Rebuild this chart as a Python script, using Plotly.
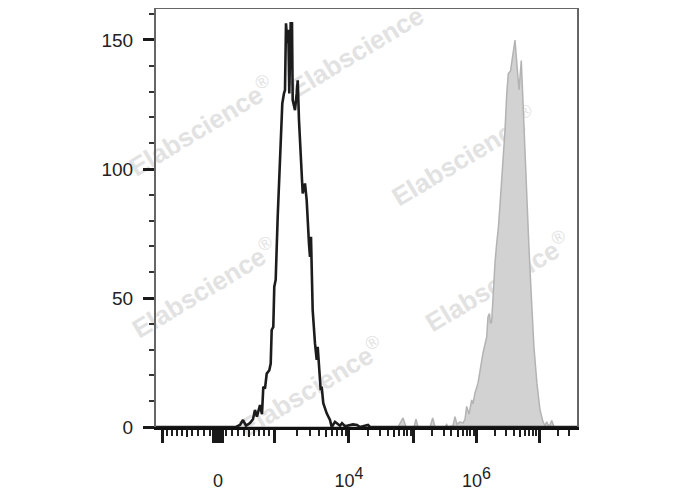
import math
import plotly.graph_objects as go

# ---------------- data (display channel of biexponential axis, 0-1024) ----------------
black_channel = [0, 107.0, 194.6, 204.3, 211.6, 218.9, 228.6, 235.9, 240.7, 245.5, 253.0,
                 257.8, 261.0, 265.1, 269.3, 275.6, 279.0, 281.4, 285.3, 287.7, 291.1,
                 296.0, 299.2, 304.0, 307.2, 311.3, 313.8, 316.2, 319.4, 321.8, 324.2,
                 327.6, 330.8, 332.5, 338.1, 342.2, 344.7, 347.8, 352.0, 356.8, 362.4,
                 366.5, 372.1, 374.6, 377.0, 381.1, 386.7, 390.9, 393.3, 396.5, 400.6,
                 403.0, 406.9, 415.2, 423.2, 427.4, 435.4, 447.5, 452.4, 459.7, 479.2,
                 488.9, 496.2, 515.7, 520.5, 1024]
black_count = [0, 0, 0, 0.8, 2.7, 0.5, 1.5, 3, 6.6, 4, 8.5,
               5, 15.6, 14.9, 20.7, 22, 24.6, 37.6, 38.8, 54.4, 57,
               81.5, 94.4, 116.3, 125.4, 129.3, 130.6, 156.5, 148.8, 154, 129.3,
               156.5, 156.5, 126.7, 122.8, 129.3, 134.4, 118.9, 107.2, 90.5, 94.4,
               87.9, 71.1, 65.9, 73.7, 45.3, 32.4, 26, 31.1, 22, 14.3,
               15.6, 9.2, 5.3, 2.7, 0, 2, 0.5, 1.5, 0.3, 1,
               0.8, 0, 0.8, 0, 0]

gray_channel = [0, 588.6, 600.8, 608.1, 627.5, 632.4, 637.3, 666.5, 673.0, 678.6, 702.9,
                707.1, 710.2, 722.4, 727.2, 732.1, 739.4, 746.7, 751.6, 755.7, 761.3,
                767.9, 771.0, 775.9, 783.2, 788.0, 795.3, 804.4, 807.5, 811.2, 813.6,
                816.5, 819.7, 824.5, 828.7, 832.6, 836.7, 840.9, 844.0, 848.9, 853.0,
                856.9, 862.3, 867.6, 873.2, 878.1, 883.0, 888.5, 891.9, 895.1, 900.5,
                907.0, 913.0, 919.3, 926.5, 934.0, 941.3, 946.2, 950.3, 955.9, 962.5,
                968.1, 1024]
gray_count = [0, 0, 3.5, 0, 0, 3, 0, 0, 3.5, 0, 0,
              1, 0, 0.5, 4, 1, 2, 1.5, 3, 8, 5,
              10.5, 9, 13.2, 17, 22, 28.6, 35, 42.7, 44, 40,
              41, 52, 63.5, 71.3, 77, 86, 95.7, 103, 115, 129,
              137, 138, 143.5, 150, 140, 130.6, 142, 128, 118, 93,
              70, 50.5, 31, 17, 6.6, 2, 0.5, 2, 0, 2.5,
              0, 0]

# axis scale: fluorescence value -> display channel
scale_values = [-1e3, 0, 1e3, 1e4, 1e5, 1e6, 1e7]
scale_channels = [14.6, 150.8, 287.0, 469.4, 626.3, 779.6, 931.6]

y_major = [0, 50, 100, 150]
x_label_values = {0: "0",
                  1e4: "10<sup><span style='font-size:16px'>4</span></sup>",
                  1e6: "10<sup><span style='font-size:16px'>6</span></sup>"}


def to_channel(v):
    c0 = scale_channels[1]
    if abs(v) < 1e3:
        frac = (abs(v) / 1e3) ** 0.85
        if v >= 0:
            return c0 + frac * (scale_channels[2] - c0)
        return c0 - frac * (c0 - scale_channels[0])
    if v <= -1e3:
        return scale_channels[0]
    d = math.log10(v)
    k = min(int(math.floor(d + 1e-9)), 6)
    i = k - 1  # index of 10^k in scale lists (10^3 -> 2)
    lo, hi = scale_channels[i], scale_channels[i + 1]
    return lo + (d - k) * (hi - lo)


major_vals = [-1e3, 0, 1e3, 1e4, 1e5, 1e6, 1e7] + [s * m for m in (10, 20, 30, 40, 50) for s in (-1, 1)]
major_pos = [to_channel(v) for v in major_vals]
major_txt = [x_label_values.get(v, "") for v in major_vals]

medium_vals = [-500, 500, 5e3, 5e4, 5e5, 5e6]
medium_pos = [to_channel(v) for v in medium_vals]

small_vals = [s * m for m in (100, 200, 300, 400, 600, 700, 800, 900) for s in (-1, 1)]
for k in range(3, 8):
    for m in (2, 3, 4, 6, 7, 8, 9):
        small_vals.append(m * 10 ** k)
small_pos = [p for p in (to_channel(v) for v in small_vals) if p < 1012]

X_RANGE = [0, 1024]
Y_RANGE = [0, 162.4]

fig = go.Figure()
fig.add_trace(go.Scatter(x=gray_channel, y=gray_count, mode="lines", fill="tozeroy",
                         fillcolor="#d2d2d2", line=dict(color="#b3b3b3", width=1.5),
                         hoverinfo="skip"))
fig.add_trace(go.Scatter(x=black_channel, y=black_count, mode="lines",
                         line=dict(color="#1c1c1c", width=2.6), hoverinfo="skip"))
fig.add_trace(go.Scatter(x=[], y=[], xaxis="x2", showlegend=False))

font_family = "Arial, Liberation Sans, sans-serif"

# watermarks: labels of invisible shapes drawn beneath the traces
wm_positions = [(0.49, 0.905), (0.108, 0.716), (0.732, 0.645), (0.115, 0.33),
                (0.812, 0.345), (0.37, 0.094)]
shapes = [dict(type="line", xref="paper", yref="paper", x0=0, x1=1, y0=1, y1=1,
               line=dict(color="#666666", width=2), layer="above")]
for (px, py) in wm_positions:
    shapes.append(dict(type="rect", xref="paper", yref="paper", layer="below",
                       x0=px - 0.005, x1=px + 0.005, y0=py - 0.005, y1=py + 0.005,
                       line=dict(width=0), fillcolor="rgba(0,0,0,0)",
                       label=dict(text="<b>Elabscience</b><sup>®</sup>", textangle=-31,
                                  textposition="middle center",
                                  font=dict(family=font_family, size=26, color="#e2e2e2"))))

# page body has an 8px margin, so the figure is sized to fit the window
fig.update_layout(
    width=680, height=482,
    margin=dict(l=148, r=111, t=0, b=63),
    paper_bgcolor="white", plot_bgcolor="white",
    showlegend=False,
    xaxis=dict(range=X_RANGE, showgrid=False, zeroline=False,
               showline=True, linecolor="#111111", linewidth=3,
               tickmode="array", tickvals=major_pos, ticktext=major_txt,
               ticks="outside", ticklen=13, tickwidth=3, tickcolor="#1a1a1a",
               tickfont=dict(family=font_family, size=18, color="#222222"),
               ticklabelstandoff=22,
               minor=dict(tickmode="array", tickvals=small_pos, ticks="outside",
                          ticklen=6, tickwidth=1.6, tickcolor="#222222", showgrid=False)),
    xaxis2=dict(range=X_RANGE, overlaying="x", anchor="y", side="bottom",
                showgrid=False, zeroline=False, showline=False,
                tickmode="array", tickvals=medium_pos, ticks="outside",
                ticklen=9, tickwidth=2.2, tickcolor="#1a1a1a", showticklabels=False),
    yaxis=dict(range=Y_RANGE, showgrid=False, zeroline=False,
               showline=True, linecolor="#666666", linewidth=2, mirror=True,
               tickmode="array", tickvals=y_major,
               ticks="outside", ticklen=11, tickwidth=3, tickcolor="#1a1a1a",
               tickfont=dict(family=font_family, size=19, color="#222222"),
               ticklabelstandoff=6,
               minor=dict(tickmode="linear", tick0=0, dtick=10, ticks="outside",
                          ticklen=5, tickwidth=1.5, tickcolor="#333333", showgrid=False)),
    shapes=shapes,
)

fig.write_html("out.html")
